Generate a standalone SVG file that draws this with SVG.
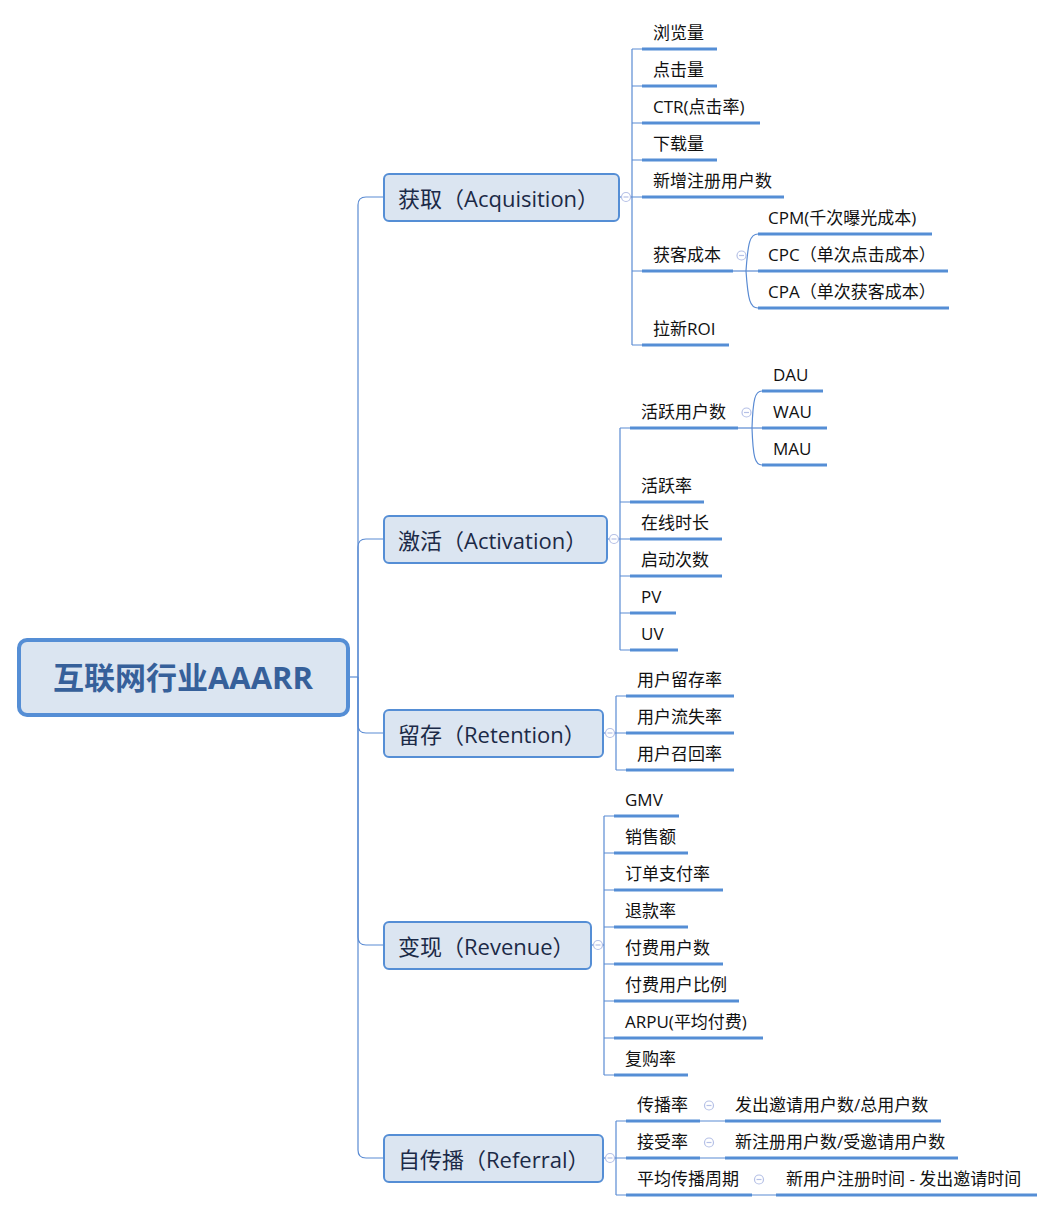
<svg xmlns="http://www.w3.org/2000/svg" width="1054" height="1212" viewBox="0 0 1054 1212">
<style>
text{font-family:"Open Sans","Noto Sans CJK SC",sans-serif;}
.root rect{fill:#DBE5F1;stroke:#558ED5;stroke-width:4;}
.root text{font-size:31px;font-weight:bold;fill:#36609A;text-anchor:middle;}
.br rect{fill:#DBE5F1;stroke:#558ED5;stroke-width:2;}
.br text{font-size:22px;fill:#1B2A47;}
.lf text{font-size:17px;fill:#111;}
.lf line{stroke:#558ED5;stroke-width:3;}
.con path{fill:none;stroke:#5A8BD3;stroke-width:1.2;}
</style>
<defs>
<g id="tog"><circle r="4.5" fill="#fff" stroke="#B5C0E6" stroke-width="1.2"/><line x1="-2.5" y1="0" x2="2.5" y2="0" stroke="#B5C0E6" stroke-width="1.2"/></g>
</defs>

<g id="connectors" class="con">
<path d="M350,677 H358"/>
<path d="M358,677 V205 Q358,197 366,197 H384"/>
<path d="M358,677 V547 Q358,539 366,539 H384"/>
<path d="M358,677 V725 Q358,733 366,733 H384"/>
<path d="M358,677 V937 Q358,945 366,945 H384"/>
<path d="M358,677 V1150 Q358,1158 366,1158 H384"/>
<!-- Acquisition -->
<path d="M619,197 H632"/>
<path d="M632,49 V345"/>
<path d="M632,49 H642 M632,86 H642 M632,123 H642 M632,160 H642 M632,197 H642 M632,271 H642 M632,345 H642"/>
<path d="M733,271 H758"/>
<path d="M746,271 C748,242 750,234 758,234"/>
<path d="M746,271 C748,300 750,308 758,308"/>
<!-- Activation -->
<path d="M607,539 H620"/>
<path d="M620,428 V650"/>
<path d="M620,428 H630 M620,502 H630 M620,539 H630 M620,576 H630 M620,613 H630 M620,650 H630"/>
<path d="M738,428 H762"/>
<path d="M752,428 C753,399 755,391 762,391"/>
<path d="M752,428 C753,457 755,465 762,465"/>
<!-- Retention -->
<path d="M603,733 H616"/>
<path d="M616,696 V770"/>
<path d="M616,696 H626 M616,733 H626 M616,770 H626"/>
<!-- Revenue -->
<path d="M591,945 H604"/>
<path d="M604,816 V1075"/>
<path d="M604,816 H614 M604,853 H614 M604,890 H614 M604,927 H614 M604,964 H614 M604,1001 H614 M604,1038 H614 M604,1075 H614"/>
<!-- Referral -->
<path d="M603,1158 H616"/>
<path d="M616,1121 V1195"/>
<path d="M616,1121 H626 M616,1158 H626 M616,1195 H626"/>
<path d="M700,1121 H725 M700,1158 H725 M752,1195 H776"/>
</g>

<g id="toggles">
<use href="#tog" x="626" y="197"/>
<use href="#tog" x="741.5" y="255.5"/>
<use href="#tog" x="614" y="539"/>
<use href="#tog" x="746.5" y="412.5"/>
<use href="#tog" x="610" y="733"/>
<use href="#tog" x="598" y="945"/>
<use href="#tog" x="610" y="1158"/>
<use href="#tog" x="709" y="1105.5"/>
<use href="#tog" x="709" y="1142.5"/>
<use href="#tog" x="759" y="1179.5"/>
</g>

<g id="root" class="root"><rect x="19" y="640" width="329" height="75" rx="8"/><text x="183" y="689">互联网行业AAARR</text></g>

<g id="acq" class="br"><rect x="384" y="174" width="235" height="47" rx="5"/><text x="398" y="207">获取（Acquisition）</text></g>
<g id="act" class="br"><rect x="384" y="516" width="223" height="47" rx="5"/><text x="398" y="549">激活（Activation）</text></g>
<g id="ret" class="br"><rect x="384" y="710" width="219" height="47" rx="5"/><text x="398" y="743">留存（Retention）</text></g>
<g id="rev" class="br"><rect x="384" y="922" width="207" height="47" rx="5"/><text x="398" y="955">变现（Revenue）</text></g>
<g id="ref" class="br"><rect x="384" y="1135" width="219" height="47" rx="5"/><text x="398" y="1168">自传播（Referral）</text></g>

<!-- Acquisition leaves -->
<g id="a1" class="lf"><text x="653" y="39">浏览量</text><line x1="642" y1="49" x2="717" y2="49"/></g>
<g id="a2" class="lf"><text x="653" y="76">点击量</text><line x1="642" y1="86" x2="717" y2="86"/></g>
<g id="a3" class="lf"><text x="653" y="113">CTR(点击率)</text><line x1="642" y1="123" x2="760" y2="123"/></g>
<g id="a4" class="lf"><text x="653" y="150">下载量</text><line x1="642" y1="160" x2="717" y2="160"/></g>
<g id="a5" class="lf"><text x="653" y="187">新增注册用户数</text><line x1="642" y1="197" x2="784" y2="197"/></g>
<g id="a6" class="lf"><text x="653" y="261">获客成本</text><line x1="642" y1="271" x2="733" y2="271"/></g>
<g id="a6a" class="lf"><text x="768" y="224">CPM(千次曝光成本)</text><line x1="758" y1="234" x2="932" y2="234"/></g>
<g id="a6b" class="lf"><text x="768" y="261">CPC（单次点击成本）</text><line x1="758" y1="271" x2="948" y2="271"/></g>
<g id="a6c" class="lf"><text x="768" y="298">CPA（单次获客成本）</text><line x1="758" y1="308" x2="949" y2="308"/></g>
<g id="a7" class="lf"><text x="653" y="335">拉新ROI</text><line x1="642" y1="345" x2="729" y2="345"/></g>

<!-- Activation leaves -->
<g id="b1" class="lf"><text x="641" y="418">活跃用户数</text><line x1="630" y1="428" x2="738" y2="428"/></g>
<g id="b1a" class="lf"><text x="773" y="381">DAU</text><line x1="762" y1="391" x2="823" y2="391"/></g>
<g id="b1b" class="lf"><text x="773" y="418">WAU</text><line x1="762" y1="428" x2="827" y2="428"/></g>
<g id="b1c" class="lf"><text x="773" y="455">MAU</text><line x1="762" y1="465" x2="827" y2="465"/></g>
<g id="b2" class="lf"><text x="641" y="492">活跃率</text><line x1="630" y1="502" x2="704" y2="502"/></g>
<g id="b3" class="lf"><text x="641" y="529">在线时长</text><line x1="630" y1="539" x2="722" y2="539"/></g>
<g id="b4" class="lf"><text x="641" y="566">启动次数</text><line x1="630" y1="576" x2="722" y2="576"/></g>
<g id="b5" class="lf"><text x="641" y="603">PV</text><line x1="630" y1="613" x2="676" y2="613"/></g>
<g id="b6" class="lf"><text x="641" y="640">UV</text><line x1="630" y1="650" x2="678" y2="650"/></g>

<!-- Retention leaves -->
<g id="c1" class="lf"><text x="637" y="686">用户留存率</text><line x1="626" y1="696" x2="734" y2="696"/></g>
<g id="c2" class="lf"><text x="637" y="723">用户流失率</text><line x1="626" y1="733" x2="734" y2="733"/></g>
<g id="c3" class="lf"><text x="637" y="760">用户召回率</text><line x1="626" y1="770" x2="734" y2="770"/></g>

<!-- Revenue leaves -->
<g id="d1" class="lf"><text x="625" y="806">GMV</text><line x1="614" y1="816" x2="679" y2="816"/></g>
<g id="d2" class="lf"><text x="625" y="843">销售额</text><line x1="614" y1="853" x2="688" y2="853"/></g>
<g id="d3" class="lf"><text x="625" y="880">订单支付率</text><line x1="614" y1="890" x2="723" y2="890"/></g>
<g id="d4" class="lf"><text x="625" y="917">退款率</text><line x1="614" y1="927" x2="688" y2="927"/></g>
<g id="d5" class="lf"><text x="625" y="954">付费用户数</text><line x1="614" y1="964" x2="723" y2="964"/></g>
<g id="d6" class="lf"><text x="625" y="991">付费用户比例</text><line x1="614" y1="1001" x2="739" y2="1001"/></g>
<g id="d7" class="lf"><text x="625" y="1028">ARPU(平均付费)</text><line x1="614" y1="1038" x2="763" y2="1038"/></g>
<g id="d8" class="lf"><text x="625" y="1065">复购率</text><line x1="614" y1="1075" x2="688" y2="1075"/></g>

<!-- Referral leaves -->
<g id="e1" class="lf"><text x="637" y="1111">传播率</text><line x1="626" y1="1121" x2="700" y2="1121"/></g>
<g id="e1a" class="lf"><text x="735" y="1111">发出邀请用户数/总用户数</text><line x1="725" y1="1121" x2="941" y2="1121"/></g>
<g id="e2" class="lf"><text x="637" y="1148">接受率</text><line x1="626" y1="1158" x2="700" y2="1158"/></g>
<g id="e2a" class="lf"><text x="735" y="1148">新注册用户数/受邀请用户数</text><line x1="725" y1="1158" x2="958" y2="1158"/></g>
<g id="e3" class="lf"><text x="637" y="1185">平均传播周期</text><line x1="626" y1="1195" x2="752" y2="1195"/></g>
<g id="e3a" class="lf"><text x="786" y="1185">新用户注册时间 - 发出邀请时间</text><line x1="776" y1="1195" x2="1037" y2="1195"/></g>
</svg>
